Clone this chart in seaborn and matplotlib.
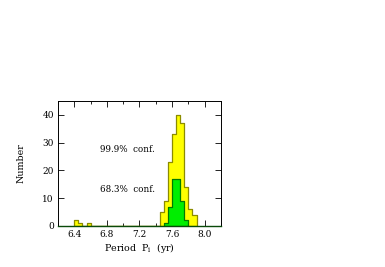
import numpy as np
import pandas as pd
import matplotlib
matplotlib.use("Agg")
import matplotlib.pyplot as plt
import seaborn as sns

# bin left edges (yr) and counts, bin width 0.05
bin_width = 0.05
all_left = [6.40, 6.45, 6.55, 7.45, 7.50, 7.55, 7.60, 7.65, 7.70, 7.75, 7.80, 7.85]
all_counts = [2, 1, 1, 5, 9, 23, 33, 40, 37, 14, 6, 4]          # 99.9% conf.
core_left = [7.50, 7.55, 7.60, 7.65, 7.70, 7.75]
core_counts = [1, 7, 17, 17, 9, 2]                              # 68.3% conf.

x_ticks = [6.4, 6.8, 7.2, 7.6, 8.0]
y_ticks = [0, 10, 20, 30, 40]

sns.set_style("ticks")
plt.rcParams["font.family"] = ["DejaVu Serif"]
plt.rcParams["text.color"] = "black"
plt.rcParams["axes.labelcolor"] = "black"
plt.rcParams["xtick.color"] = "black"
plt.rcParams["ytick.color"] = "black"

fig = plt.figure(figsize=(3.85, 2.67), dpi=100)
ax = fig.add_axes([0.1506, 0.1536, 0.4234, 0.4681])

df_all = pd.DataFrame({"p": np.array(all_left) + bin_width / 2, "n": all_counts})
df_core = pd.DataFrame({"p": np.array(core_left) + bin_width / 2, "n": core_counts})

sns.histplot(data=df_all, x="p", weights="n", binwidth=bin_width, binrange=(6.4, 7.9),
             element="step", fill=True, color="#ffff00", alpha=1,
             edgecolor="#8c8c00", linewidth=0.9, ax=ax)
sns.histplot(data=df_core, x="p", weights="n", binwidth=bin_width, binrange=(7.5, 7.8),
             element="step", fill=True, color="#00ee00", alpha=1,
             edgecolor="#007a00", linewidth=0.9, ax=ax)

ax.text(6.71, 27.6, "99.9%  conf.", fontsize=6.3, va="center", ha="left")
ax.text(6.71, 13.2, "68.3%  conf.", fontsize=6.3, va="center", ha="left")

ax.set_xlim(6.2, 8.2)
ax.set_ylim(0, 45)
ax.set_xticks(x_ticks)
ax.set_xticklabels([f"{v:.1f}" for v in x_ticks])
ax.set_yticks(y_ticks)
ax.set_xticks(np.arange(6.2, 8.21, 0.2), minor=True)
ax.tick_params(which="both", direction="in", top=True, right=True,
               labelsize=6.5, width=0.6, pad=3)
ax.tick_params(which="major", length=4)
ax.tick_params(which="minor", length=2)
ax.set_xlabel("Period  P$_\\mathregular{i}$  (yr)", fontsize=6.8, labelpad=1.5)
ax.set_ylabel("Number", fontsize=6.8, labelpad=12)
for s in ax.spines.values():
    s.set_linewidth(0.7)
    s.set_color("black")
ax.spines["bottom"].set_color("#0a4a0a")
ax.spines["bottom"].set_linewidth(1.0)

fig.savefig("out.png", dpi=100)
